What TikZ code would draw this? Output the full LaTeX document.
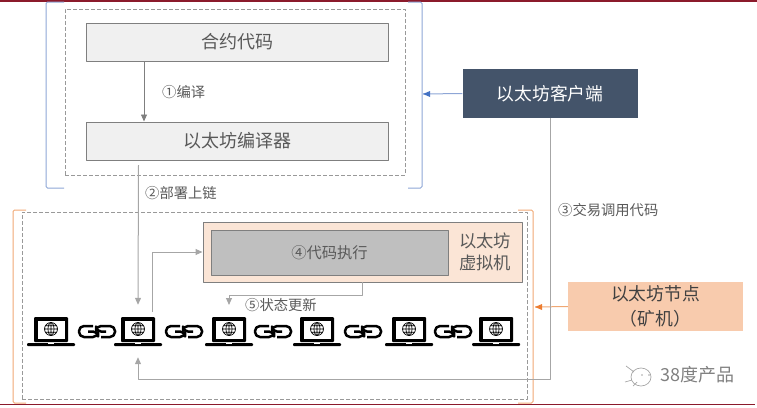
\documentclass[tikz,border=0pt]{standalone}
\usepackage{fontspec}
\setmainfont{Noto Sans CJK SC}
\usetikzlibrary{arrows.meta}
\definecolor{txtgray}{HTML}{595959}
\definecolor{linegray}{HTML}{A6A6A6}
\definecolor{tipgray}{HTML}{7F7F7F}
\definecolor{bluebr}{HTML}{8EA6D6}
\definecolor{bluetip}{HTML}{4472C4}
\definecolor{orangebr}{HTML}{F0A874}
\definecolor{orangetip}{HTML}{ED7D31}
\definecolor{slatebox}{HTML}{44546A}
\definecolor{peachbox}{HTML}{F8CBAD}
\definecolor{vmbox}{HTML}{FBE5D6}
\definecolor{darkred}{HTML}{8B1A2B}
\tikzset{
	stepbox/.style={draw=tipgray,line width=1pt,fill=black!6,text=txtgray,font=\fontsize{18}{20}\selectfont,minimum width=302pt,minimum height=38pt,inner sep=0pt},
	sidebox/.style={text width=175pt,align=center,minimum width=175pt,minimum height=49pt,inner sep=0pt,font=\fontsize{17.8}{25}\selectfont},
	steplabel/.style={text=txtgray,font=\fontsize{14.3}{16}\selectfont,inner sep=0pt},
	dashbox/.style={draw=black!40,dash pattern=on 4pt off 2pt,line width=.7pt,inner sep=0pt},
	conn/.style={draw=linegray,line width=1pt,->},
	laptop/.pic={
		\fill[black,rounded corners=1pt] (-17,-14) rectangle (17,11);
		\fill[white] (-13.5,-10.5) rectangle (13.5,7.5);
		\draw[black,line width=.7pt] (0,-2) circle (6.5) (0,-8.5)--(0,4.5) (-6.5,-2)--(6.5,-2) (-5.6,-5.2)--(5.6,-5.2) (-5.6,1.2)--(5.6,1.2);
		\draw[black,line width=.7pt] (0,-2) ellipse (3 and 6.5);
		\fill[black,rounded corners=1pt] (-24,12) rectangle (24,15);
		\fill[white] (-3,12) rectangle (3,13);
	},
	chainlink/.pic={
		\draw[black,line width=2.5pt,rounded corners=5pt] (-4,-5.5)--(-18,-5.5)--(-18,5.5)--(1,5.5)--(1,0)--(-9,0);
		\draw[black,line width=2.5pt,rounded corners=5pt] (4,5.5)--(18,5.5)--(18,-5.5)--(-1,-5.5)--(-1,0)--(9,0);
	}
}
\begin{document}
\begin{tikzpicture}[x=1pt,y=-1pt,>={Triangle[width=6pt,length=7pt]},line join=round]
	\useasboundingbox (0,0) rectangle (757,407);
	\draw[darkred,line width=1.6pt] (0,1.2)--(757,1.2) (0,404.5)--(755,404.5);
	% upper group
	\node[dashbox,minimum width=340pt,minimum height=166pt] (compile) at (235,92) {};
	\draw[bluebr,line width=1pt,rounded corners=1.5pt] (64,2)--(46,2)--(46,188)--(64,188) (408,2)--(422,2)--(422,188)--(408,188);
	\node[stepbox] (source) at (237,42) {合约代码};
	\node[stepbox] (compiler) at (237,141) {以太坊编译器};
	\node[sidebox,fill=slatebox,text=white,minimum width=174pt] (client) at (550,93.5) {以太坊客户端};
	\coordinate (clientin) at (423,94);
	\draw[bluebr,line width=1pt] (client.west)--(clientin);
	\fill[bluetip] (423,94)--(430,91)--(430,97)--cycle;
	\draw[conn,draw=tipgray,line width=.8pt] ([xshift=-93pt]source.south)--([xshift=-93pt]compiler.north);
	\node[steplabel,anchor=west] (lbcompile) at (162,92) {①编译};
	\node[steplabel,anchor=west] (lbdeploy) at (145,193) {②部署上链};
	\node[steplabel,anchor=west] (lbcall) at (558,210) {③交易调用代码};
	% lower group
	\node[dashbox,minimum width=505pt,minimum height=187pt] (chain) at (274.5,305.5) {};
	\draw[orangebr,line width=1pt,rounded corners=1.5pt] (26,210)--(13,210)--(13,403)--(26,403) (518,210)--(533,210)--(533,403)--(518,403);
	\node[draw=tipgray,line width=1pt,fill=vmbox,minimum width=319pt,minimum height=60pt,inner sep=0pt] (vm) at (362.5,252) {};
	\node[draw=tipgray,line width=1pt,fill=black!25,text=txtgray,minimum width=237pt,minimum height=45pt,inner sep=0pt,font=\fontsize{15.3}{18}\selectfont] (exec) at (329.5,252.5) {④代码执行};
	\node[text=txtgray,align=center,inner sep=0pt,font=\fontsize{17.3}{22}\selectfont] (vmname) at (485,252) {以太坊\\虚拟机};
	\node[sidebox,fill=peachbox,text=black!75] (miner) at (655.5,306.5) {以太坊节点\\（矿机）};
	\coordinate (chainin) at (535,307);
	\draw[orangebr,line width=1pt] (miner.west)--(chainin);
	\fill[orangetip] (535,307)--(542,304)--(542,310)--cycle;
	% laptops and links
	\foreach \n/\x in{1/51,2/138,3/229,4/317,5/409,6/496}{
		\node[minimum width=60pt,minimum height=52pt,inner sep=0pt] (lap\n) at (\x,331) {};
		\pic at (lap\n) {laptop};
	}
	\foreach \x in{97,184,273,363,453}
		\pic at (\x,331.5) {chainlink};
	% connectors
	\coordinate (deploy) at (138.5,165);
	\coordinate (lapout) at (152.5,312);
	\coordinate (vmout) at (362,282);
	\coordinate (update) at (229,305);
	\draw[conn] (deploy)--(lap2.north);
	\draw[conn] (lapout)|-(vm.west);
	\draw[conn] (vmout)--(362,295)-|(update);
	\draw[conn] (client.south)--(550,379)-|(lap2.south);
	\node[steplabel,anchor=west] (lbupdate) at (245,305) {⑤状态更新};
	% watermark
	\draw[black!35,line width=.7pt] (641,377) ellipse (10 and 9) (626,366)--(634,372) (625,382)--(632,380) (633,386)--(637,382);
	\fill[black!35] (642,375) circle (.9) (649,375) circle (.9);
	\node[text=black!50,anchor=west,inner sep=0pt,font=\fontsize{18}{20}\selectfont] (mark) at (660,375) {38度产品};
\end{tikzpicture}
\end{document}
